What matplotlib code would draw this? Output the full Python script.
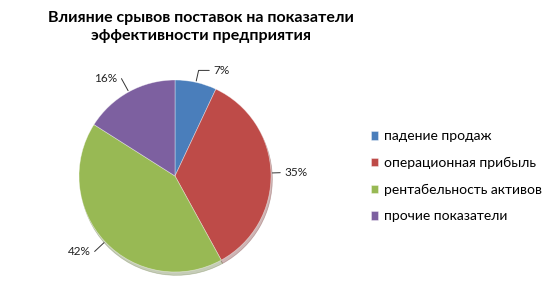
import numpy as np
import matplotlib.pyplot as plt

# data
categories = ['падение продаж', 'операционная прибыль',
              'рентабельность активов', 'прочие показатели']
shares = [7, 35, 42, 16]
pct_labels = ['7%', '35%', '42%', '16%']
colors = ['#4a7ebb', '#be4b48', '#98b954', '#7d60a0']

plt.rcParams['font.family'] = ['Lato', 'DejaVu Sans']

fig = plt.figure(figsize=(5.57, 3.0), dpi=100)

# pie axes placed in pixel terms: centre (175,176), radius ~96 px
cx, cy, r = 175, 176, 96
half = 1.4 * r
ax = fig.add_axes([(cx - half) / 557, (300 - cy - half) / 300,
                   2 * half / 557, 2 * half / 300])

wedges, _ = ax.pie(shares, colors=colors, startangle=90, counterclock=False,
                   radius=1.0, wedgeprops=dict(linewidth=0.5, edgecolor='#ffffff80'),
                   shadow={'ox': 0.01, 'oy': -0.025, 'shade': 0.4, 'alpha': 0.35})
ax.set_xlim(-1.4, 1.4)
ax.set_ylim(-1.4, 1.4)
ax.set_aspect('equal')
ax.axis('off')

# label text positions (data units) and leader lines
text_pos = [(0.40, 1.10), (1.14, 0.04), (-0.88, -0.79), (-0.60, 1.02)]
for w, lab, (tx, ty) in zip(wedges, pct_labels, text_pos):
    mid = (w.theta1 + w.theta2) / 2
    ang = np.deg2rad(mid)
    ex, ey = np.cos(ang), np.sin(ang)
    right = tx > 0
    ax.annotate(lab, xy=(ex, ey), xytext=(tx, ty),
                ha='left' if right else 'right', va='center',
                fontsize=8.5, color='#222222', annotation_clip=False,
                arrowprops=dict(arrowstyle='-', color='#333333', lw=0.7,
                                shrinkA=1, shrinkB=1,
                                relpos=(0, 0.5) if right else (1, 0.5),
                                connectionstyle='angle,angleA=0,angleB=%.1f' % mid))

fig.text(201 / 557, 1 - 18 / 300, 'Влияние срывов поставок на показатели',
         ha='center', va='center', fontsize=11.5, fontweight='bold')
fig.text(201 / 557, 1 - 36 / 300, 'эффективности предприятия',
         ha='center', va='center', fontsize=11.5, fontweight='bold')

leg = fig.legend(wedges, categories, loc='upper left',
                 bbox_to_anchor=(358 / 557, 1 - 118 / 300),
                 frameon=False, fontsize=10, handlelength=0.55, handleheight=0.55,
                 handletextpad=0.45, labelspacing=1.05)

fig.savefig('out.png', dpi=100)
